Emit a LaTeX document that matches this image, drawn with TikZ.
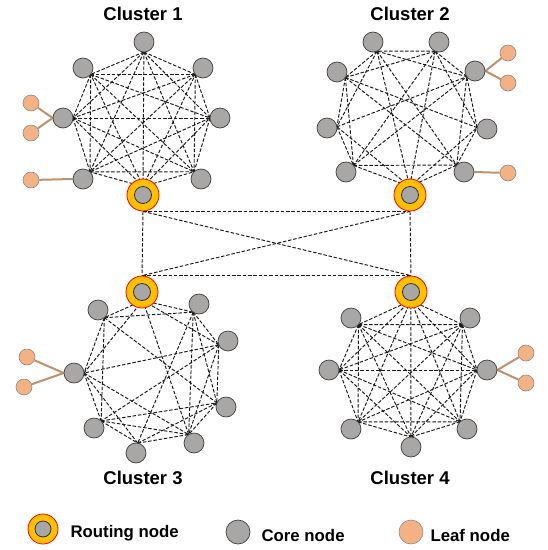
\documentclass[tikz,border=0pt]{standalone}
\usepackage{fontspec}
\setmainfont{Liberation Sans}
\usetikzlibrary{calc,backgrounds}

\definecolor{coregray}{HTML}{A9A6A6}
\definecolor{leaforange}{HTML}{F4B183}
\definecolor{ringorange}{HTML}{FFC000}
\definecolor{leafbrown}{HTML}{C0916C}

\tikzset{
	core/.style={circle, draw=black!75, fill=coregray, line width=0.7pt,
		minimum size=20pt, inner sep=0pt},
	ring/.style={circle, draw=red, fill=ringorange, line width=0.8pt,
		minimum size=32pt, inner sep=0pt},
	hub/.style={circle, draw=black!80, fill=coregray, line width=0.8pt,
		minimum size=17pt, inner sep=0pt},
	leaf/.style={circle, draw=black!45, fill=leaforange, line width=0.6pt,
		minimum size=16pt, inner sep=0pt},
	link/.style={dashed, dash pattern=on 3.5pt off 1.8pt, line width=0.95pt,
		black!90},
	leafline/.style={leafbrown, line width=2pt},
	title/.style={font=\fontsize{18.5}{20}\selectfont\bfseries},
	legend/.style={font=\fontsize{16.8}{18}\selectfont\bfseries, anchor=west}
}

% alle Paare eines Clusters verbinden
\newcommand{\meshall}[1]{%
	\foreach \a [count=\i] in {#1}
		\foreach \b [count=\j] in {#1}
			{\ifnum\j>\i \draw[link] (p\a) -- (p\b); \fi}%
}

\begin{document}
\begin{tikzpicture}[x=1pt, y=-1pt]
	\useasboundingbox (0,0) rectangle (548,550);

	% Ueberschriften
	\node[title] (t1) at (143,14) {Cluster 1};
	\node[title] (t2) at (410,14) {Cluster 2};
	\node[title] (t3) at (143,478) {Cluster 3};
	\node[title] (t4) at (410,478) {Cluster 4};

	% Clustermitten
	\coordinate (m1) at (143,118);
	\coordinate (m2) at (407,118);
	\coordinate (m3) at (150,373);
	\coordinate (m4) at (410,370);

	% Routing-Knoten
	\node[ring] (ring1) at (143,195) {};
	\node[hub] (r1) at (143,195) {};
	\node[ring] (ring2) at (410,195) {};
	\node[hub] (r2) at (410,195) {};
	\node[ring] (ring3) at (142,292) {};
	\node[hub] (r3) at (142,292) {};
	\node[ring] (ring4) at (411,292) {};
	\node[hub] (r4) at (411,292) {};

	% Cluster 1
	\node[core] (n1a) at (144,42) {};
	\node[core] (n1b) at (83,68) {};
	\node[core] (n1c) at (203,68) {};
	\node[core] (n1d) at (63,118) {};
	\node[core] (n1e) at (220,118) {};
	\node[core] (n1f) at (83,179) {};
	\node[core] (n1g) at (201,179) {};
	\node[leaf] (l1a) at (31,103) {};
	\node[leaf] (l1b) at (31,133) {};
	\node[leaf] (l1c) at (31,180) {};

	% Cluster 2
	\node[core] (n2a) at (373,42) {};
	\node[core] (n2b) at (439,42) {};
	\node[core] (n2c) at (337,72) {};
	\node[core] (n2d) at (475,71) {};
	\node[core] (n2e) at (327,128) {};
	\node[core] (n2f) at (487,129) {};
	\node[core] (n2g) at (346,172) {};
	\node[core] (n2h) at (464,172) {};
	\node[leaf] (l2a) at (508,53) {};
	\node[leaf] (l2b) at (508,83) {};
	\node[leaf] (l2c) at (508,173) {};

	% Cluster 3
	\node[core] (n3a) at (98,310) {};
	\node[core] (n3b) at (199,304) {};
	\node[core] (n3c) at (228,341) {};
	\node[core] (n3d) at (74,373) {};
	\node[core] (n3e) at (226,407) {};
	\node[core] (n3f) at (94,428) {};
	\node[core] (n3g) at (194,443) {};
	\node[core] (n3h) at (136,453) {};
	\node[leaf] (l3a) at (27,357) {};
	\node[leaf] (l3b) at (24,387) {};

	% Cluster 4
	\node[core] (n4a) at (351,318) {};
	\node[core] (n4b) at (470,318) {};
	\node[core] (n4c) at (329,370) {};
	\node[core] (n4d) at (487,370) {};
	\node[core] (n4e) at (351,429) {};
	\node[core] (n4f) at (467,429) {};
	\node[core] (n4g) at (411,447) {};
	\node[leaf] (l4a) at (526,353) {};
	\node[leaf] (l4b) at (526,383) {};

	% Anschlusspunkte zur Clustermitte hin
	\foreach \c in {1,...,4}
		\coordinate (pr\c) at ($(r\c)!8.5pt!(m\c)$);
	\foreach \n in {1a,1b,1c,1d,1e,1f,1g}
		\coordinate (p\n) at ($(n\n)!10pt!(m1)$);
	\foreach \n in {2a,2b,2c,2d,2e,2f,2g,2h}
		\coordinate (p\n) at ($(n\n)!10pt!(m2)$);
	\foreach \n in {3a,3b,3c,3d,3e,3f,3g,3h}
		\coordinate (p\n) at ($(n\n)!10pt!(m3)$);
	\foreach \n in {4a,4b,4c,4d,4e,4f,4g}
		\coordinate (p\n) at ($(n\n)!10pt!(m4)$);

	\begin{scope}[on background layer]
		% Verbindungen in den Clustern
		\meshall{r1,1a,1b,1c,1d,1e,1f,1g}
		\meshall{r4,4a,4b,4c,4d,4e,4f,4g}
		\foreach \a/\b in {r2/2h, 2h/2f, 2f/2d, 2d/2b, 2b/2a, 2a/2c, 2c/2e,
				2e/2g, 2g/r2, 2g/2h, 2b/2c, 2a/2d, 2a/2e, 2b/2f, 2c/2g, 2h/2d,
				r2/2e, r2/2f, 2a/2h, 2b/2g, 2c/2f, 2e/2d, 2g/2d, 2c/2h,
				2a/r2, 2b/r2}
			\draw[link] (p\a) -- (p\b);
		\foreach \a/\b in {r3/3a, r3/3b, r3/3c, r3/3d, r3/3g, 3a/3b, 3a/3d,
				3a/3f, 3a/3e, 3b/3c, 3b/3e, 3b/3g, 3b/3h, 3c/3d, 3c/3f, 3c/3e,
				3c/3g, 3d/3f, 3d/3g, 3d/3h, 3f/3g, 3f/3h, 3f/3e, 3h/3e, 3h/3g,
				3e/3g}
			\draw[link] (p\a) -- (p\b);
		% Verbindungen zwischen den Clustern
		\draw[link] (ring1.south) -- (ring2.south);
		\draw[link] (ring1.south) -- (ring3.north);
		\draw[link] (ring1.south) -- (ring4.north);
		\draw[link] (ring2.south) -- (ring3.north);
		\draw[link] (ring2.south) -- (ring4.north);
		\draw[link] (ring3.north) -- (ring4.north);
		% Blattknoten
		\draw[leafline] (l1a) -- (n1d.west);
		\draw[leafline] (l1b) -- (n1d.west);
		\draw[leafline] (l1c) -- (n1f.west);
		\draw[leafline] (l2a) -- (n2d.east);
		\draw[leafline] (l2b) -- (n2d.east);
		\draw[leafline] (l2c) -- (n2h.east);
		\draw[leafline] (l3a) -- (n3d.west);
		\draw[leafline] (l3b) -- (n3d.west);
		\draw[leafline] (l4a) -- (n4d.east);
		\draw[leafline] (l4b) -- (n4d.east);
	\end{scope}

	% Legende
	\node[ring, minimum size=30pt] (kring) at (43,529) {};
	\node[hub, minimum size=16pt] (khub) at (43,529) {};
	\node[legend] (ktext1) at (67,533) {Routing node};
	\node[core, minimum size=24pt] (kcore) at (238,532) {};
	\node[legend] (ktext2) at (258,535) {Core node};
	\node[leaf, minimum size=24pt] (kleaf) at (411,532) {};
	\node[legend] (ktext3) at (427,535) {Leaf node};
\end{tikzpicture}
\end{document}
